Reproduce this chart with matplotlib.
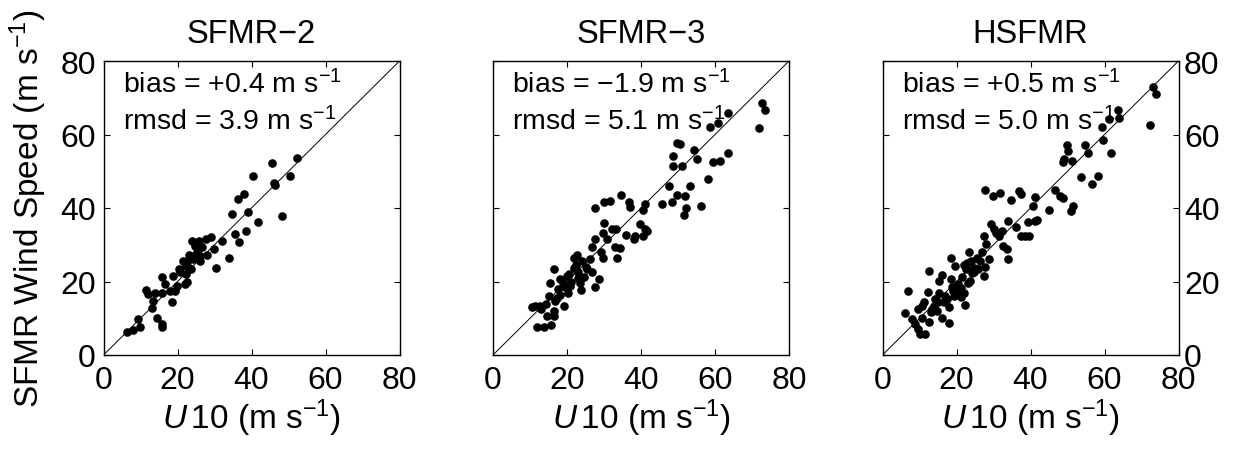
"""Three-panel scatter of SFMR wind speed against U10, one panel per instrument."""

import numpy as np
import matplotlib
matplotlib.use("Agg")
import matplotlib.pyplot as plt

plt.rcParams["font.family"] = ["Liberation Sans", "DejaVu Sans"]
plt.rcParams["mathtext.fontset"] = "custom"
plt.rcParams["mathtext.rm"] = "Liberation Sans"
plt.rcParams["mathtext.it"] = "Liberation Sans:italic"

titles = ["SFMR\u22122", "SFMR\u22123", "HSFMR"]
bias_text = ["+0.4", "\u22121.9", "+0.5"]
rmsd_text = ["3.9", "5.1", "5.0"]
ticks = [0, 20, 40, 60, 80]

# (m/s)
sfmr2_u10 = [6.3, 8.1, 9.9, 9.4, 14.4, 15.9, 15.9, 13.0, 13.5, 11.5, 12.1, 13.9,
             15.7, 18.6, 18.0, 19.3, 16.6, 15.9, 18.9, 20.5, 22.1, 22.7, 22.3,
             22.7, 23.2, 23.2, 23.6, 23.8, 24.7, 25.2, 25.9, 26.1, 26.5, 26.1,
             27.7, 28.1, 29.1, 29.9, 30.4, 31.9, 34.0, 34.6, 35.5, 36.7, 36.4,
             38.1, 39.1, 38.5, 41.7, 40.5, 45.5, 46.0, 46.4, 48.2, 50.4, 52.4,
             21.6, 22.3, 20.7, 19.8, 23.6, 24.1, 25.6]
sfmr2_sfmr = [6.3, 6.9, 7.5, 9.8, 10.0, 8.4, 7.5, 12.7, 14.8, 17.8, 16.6, 16.8,
              17.0, 14.5, 17.5, 17.5, 19.3, 21.1, 21.4, 23.4, 19.3, 20.0, 22.0,
              25.4, 27.2, 23.8, 23.4, 31.1, 29.7, 28.1, 31.1, 27.0, 29.3, 25.6,
              31.5, 27.2, 32.2, 28.8, 23.8, 31.1, 26.5, 38.3, 32.9, 30.8, 42.4,
              43.8, 39.0, 33.8, 36.1, 48.7, 52.2, 46.7, 46.2, 37.9, 48.7, 53.7,
              25.6, 24.3, 22.5, 18.8, 27.0, 26.1, 28.5]

sfmr3_u10 = [11.9, 13.7, 15.8, 14.6, 16.4, 10.5, 11.4, 12.8, 14.2, 15.0, 16.6,
             16.8, 19.3, 18.2, 15.5, 16.4, 18.2, 19.5, 20.5, 20.9, 21.8, 21.8,
             22.7, 23.1, 23.6, 23.8, 24.5, 25.4, 26.1, 26.8, 26.8, 27.7, 28.6,
             27.7, 29.2, 29.7, 29.9, 29.6, 30.8, 32.2, 33.3, 33.0, 33.5, 34.4,
             27.7, 29.9, 31.7, 34.7, 36.8, 37.1, 35.9, 38.0, 38.5, 39.8, 40.5,
             41.2, 41.6, 40.5, 41.2, 45.6, 47.6, 48.5, 49.7, 51.9, 52.1, 51.6,
             53.3, 56.3, 48.6, 48.6, 51.1, 49.8, 50.6, 54.2, 55.0, 58.0, 59.5,
             61.4, 63.5, 58.7, 60.7, 63.4, 71.8, 72.7, 73.6,
             17.5, 18.9, 19.9, 21.2, 22.4, 23.0, 24.0, 25.0, 13.0, 17.2, 20.2]
sfmr3_sfmr = [7.5, 7.5, 8.2, 10.5, 10.7, 13.1, 13.4, 13.4, 13.9, 16.1, 12.0,
              14.8, 13.4, 16.3, 19.6, 23.4, 20.7, 18.4, 22.0, 18.7, 23.8, 26.5,
              27.2, 22.5, 19.7, 17.8, 21.1, 23.4, 26.1, 29.3, 22.5, 18.4, 20.8,
              31.5, 27.9, 26.5, 35.9, 33.3, 31.5, 34.2, 34.2, 29.3, 26.5, 29.0,
              40.1, 41.7, 41.9, 43.5, 41.5, 40.4, 32.7, 31.5, 32.4, 35.6, 32.4,
              34.2, 33.7, 39.5, 41.0, 41.0, 46.0, 41.5, 43.5, 43.3, 40.1, 38.0,
              46.0, 40.6, 54.2, 51.4, 51.4, 57.8, 57.3, 55.8, 53.4, 48.0, 52.4,
              52.8, 54.9, 62.1, 63.2, 65.9, 61.9, 68.7, 66.8,
              18.0, 19.5, 21.5, 20.0, 24.5, 21.0, 25.5, 24.0, 12.5, 15.5, 17.0]

hsfmr_u10 = [6.1, 7.0, 7.9, 8.8, 9.7, 10.2, 11.5, 10.6, 10.6, 11.3, 12.2, 12.5,
             12.7, 13.1, 13.8, 14.7, 14.3, 15.2, 15.2, 16.1, 16.1, 16.7, 17.5,
             17.9, 18.4, 18.4, 18.8, 19.3, 19.7, 20.4, 20.6, 21.1, 21.5, 21.1,
             22.2, 22.0, 22.5, 22.9, 23.4, 23.6, 23.8, 24.3, 24.7, 25.5, 25.8,
             26.3, 26.9, 27.4, 27.8, 27.5, 27.9, 28.8, 29.3, 30.2, 30.6, 31.5,
             32.3, 32.7, 33.6, 33.8, 34.0, 36.1, 27.6, 29.8, 31.8, 34.7, 37.0,
             37.3, 37.5, 38.4, 39.7, 39.3, 41.1, 41.7, 40.7, 41.3, 45.0, 46.5,
             47.9, 48.8, 50.9, 51.4, 53.6, 56.5, 58.2, 48.8, 49.1, 51.1, 50.2,
             49.8, 54.7, 55.5, 59.7, 61.8, 59.3, 61.3, 63.9, 63.7, 73.2, 74.0,
             72.2, 13.5, 14.9, 16.9, 18.0, 19.0, 20.0, 21.9, 23.0, 24.8, 9.5]
hsfmr_sfmr = [11.4, 17.3, 9.8, 8.4, 7.1, 5.7, 5.7, 10.2, 13.4, 14.3, 17.2, 9.1,
              22.9, 11.6, 13.4, 12.0, 15.2, 17.0, 20.2, 21.7, 10.0, 14.3, 15.2,
              8.7, 20.8, 26.5, 18.4, 16.1, 24.3, 19.3, 17.5, 15.7, 21.1, 18.1,
              13.7, 24.5, 23.4, 25.0, 27.9, 20.2, 25.5, 22.3, 23.8, 26.5, 23.4,
              25.5, 27.9, 21.6, 24.0, 32.4, 30.2, 26.1, 35.6, 34.2, 33.3, 32.4,
              33.8, 29.7, 28.8, 26.1, 36.5, 34.9, 44.9, 43.3, 44.2, 42.2, 44.7,
              43.8, 32.4, 32.4, 32.4, 36.2, 36.5, 36.7, 40.6, 43.1, 39.5, 44.9,
              43.3, 42.6, 39.2, 40.6, 48.3, 46.5, 48.7, 52.4, 53.4, 52.7, 55.5,
              57.1, 57.1, 55.1, 58.5, 55.1, 62.1, 64.1, 64.6, 66.8, 73.0, 70.9,
              62.5, 12.5, 14.5, 16.0, 13.0, 17.5, 16.5, 17.0, 19.5, 22.5, 12.5]

u10_sets = [sfmr2_u10, sfmr3_u10, hsfmr_u10]
sfmr_sets = [sfmr2_sfmr, sfmr3_sfmr, hsfmr_sfmr]

MINUS = "\u2212"
unit = "m s$^{" + MINUS + "1}$"

W, H = 1233, 456
fig = plt.figure(figsize=(W / 100, H / 100), dpi=100)
lefts = [103.5, 493, 882.5]
ax_w, ax_h = 296, 294
ax_bottom = 100

for i in range(3):
    ax = fig.add_axes([lefts[i] / W, ax_bottom / H, ax_w / W, ax_h / H])
    ax.plot([0, 80], [0, 80], color="k", linewidth=0.7)
    ax.plot(u10_sets[i], sfmr_sets[i], "o", color="k", markersize=6.2,
            markeredgewidth=0, clip_on=False)
    ax.set_xlim(0, 80)
    ax.set_ylim(0, 80)
    ax.set_xticks(ticks)
    ax.set_yticks(ticks)
    ax.tick_params(direction="in", length=4, width=0.8, labelsize=23,
                   top=True, right=True)
    ax.tick_params(axis="x", pad=7)
    ax.tick_params(axis="y", pad=5.5)
    for sp in ax.spines.values():
        sp.set_linewidth(1.0)
    if i == 1:
        ax.tick_params(labelleft=False)
    if i == 2:
        ax.tick_params(axis="y", labelleft=False, labelright=True, pad=4)
    ax.set_title(titles[i], fontsize=23.5, pad=14)
    ax.set_xlabel("$\\mathit{U}\\,$10 (" + unit + ")", fontsize=24, labelpad=1)
    if i == 0:
        ax.set_ylabel("SFMR Wind Speed (" + unit + ")", fontsize=24, labelpad=8)
    ax.text(0.065, 0.893, f"bias = {bias_text[i]} " + unit,
            transform=ax.transAxes, fontsize=20.5, va="baseline")
    ax.text(0.065, 0.769, f"rmsd = {rmsd_text[i]} " + unit,
            transform=ax.transAxes, fontsize=20.5, va="baseline")

fig.savefig("out.png", dpi=100)
